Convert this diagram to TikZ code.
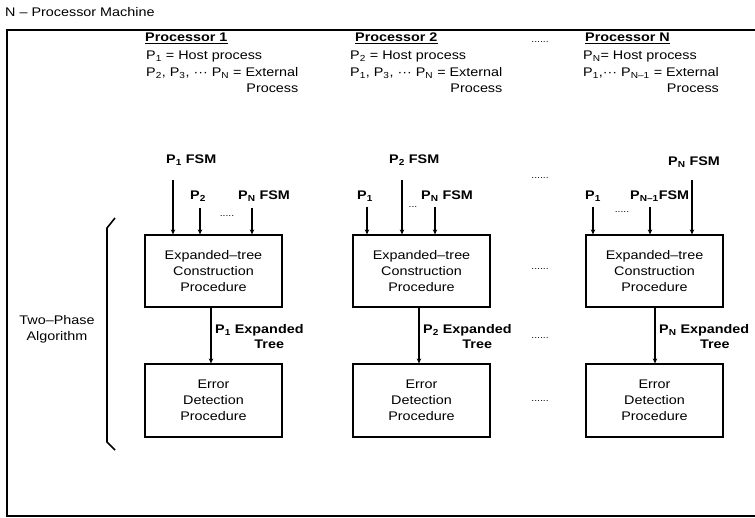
\documentclass[tikz,border=0pt]{standalone}
\usepackage{fontspec}
\setmainfont[FakeStretch=1.15]{Liberation Sans}
\usetikzlibrary{arrows.meta}
\newcommand\Psub[1]{P\textsubscript{#1}}
\begin{document}
\begin{tikzpicture}[x=1pt,y=-1pt,
  every node/.style={font=\fontsize{12.5}{16}\selectfont, inner sep=0pt},
  procbox/.style={draw, line width=1.2pt, minimum width=137pt, minimum height=72pt, align=center},
  feed/.style={line width=1.8pt, -{Stealth[length=5pt,width=4.5pt]}},
  lbl/.style={anchor=base west, font=\bfseries\fontsize{12.5}{16}\selectfont},
  txt/.style={anchor=base west},
  hdots/.style={font=\fontsize{9}{10}\selectfont},
  frameline/.style={line width=1.3pt},
  bracketline/.style={line width=1.6pt}
]
\useasboundingbox (0,0) rectangle (755,518);

% frame and title
\draw[frameline] (755,30) -- (7,30) -- (7,516) -- (755,516);
\node[txt] (title) at (5,17) {N – Processor Machine};

% headings
\node[lbl] (h1) at (145,42) {\underline{Processor 1}};
\node[lbl] (h2) at (355,42) {\underline{Processor 2}};
\node[lbl] (h3) at (585,42) {\underline{Processor N}};
\node[hdots] (d0) at (540,42) {......};

\node[txt] (host1) at (146,60) {\Psub{1} = Host process};
\node[txt] (host2) at (350,60) {\Psub{2} = Host process};
\node[txt] (host3) at (583,60) {\Psub{N}= Host process};

\node[txt] (ext1) at (146,77) {\Psub{2}, \Psub{3}, ··· \Psub{N} = \begin{tabular}[t]{@{}r@{}}External\\Process\end{tabular}};
\node[txt] (ext2) at (350,77) {\Psub{1}, \Psub{3}, ··· \Psub{N} = \begin{tabular}[t]{@{}r@{}}External\\Process\end{tabular}};
\node[txt] (ext3) at (583,77) {\Psub{1},··· \Psub{N–1} = \begin{tabular}[t]{@{}r@{}}External\\Process\end{tabular}};

% boxes
\node[procbox] (ex1) at (213.5,271) {Expanded–tree\\Construction\\Procedure};
\node[procbox] (ex2) at (421.5,271) {Expanded–tree\\Construction\\Procedure};
\node[procbox] (ex3) at (654.5,271) {Expanded–tree\\Construction\\Procedure};
\node[procbox, minimum height=73pt] (er1) at (213.5,400.5) {Error\\Detection\\Procedure};
\node[procbox, minimum height=73pt] (er2) at (421.5,400.5) {Error\\Detection\\Procedure};
\node[procbox, minimum height=73pt] (er3) at (654.5,400.5) {Error\\Detection\\Procedure};

\node[hdots] (d1) at (540,178) {......};
\node[hdots] (d2) at (540,269) {......};
\node[hdots] (d3) at (540,338) {......};
\node[hdots] (d4) at (540,401) {......};

% inputs, processor 1
\node[lbl] (l11) at (166,164) {\Psub{1} FSM};
\node[lbl] (l12) at (190,200) {\Psub{2}};
\node[lbl] (l1n) at (238,200) {\Psub{N} FSM};
\node[hdots] (d11) at (227,216) {.....};
\coordinate (s11) at (173,180);
\coordinate (s12) at (200,208);
\coordinate (s1n) at (252,208);
\draw[feed] (s11) -- (s11 |- ex1.north);
\draw[feed] (s12) -- (s12 |- ex1.north);
\draw[feed] (s1n) -- (s1n |- ex1.north);

% inputs, processor 2
\node[lbl] (l21) at (357,200) {\Psub{1}};
\node[lbl] (l22) at (389,164) {\Psub{2} FSM};
\node[lbl] (l2n) at (421,200) {\Psub{N} FSM};
\node[hdots] (d21) at (413,207) {...};
\coordinate (s21) at (367,207);
\coordinate (s22) at (402,180);
\coordinate (s2n) at (435,207);
\draw[feed] (s21) -- (s21 |- ex2.north);
\draw[feed] (s22) -- (s22 |- ex2.north);
\draw[feed] (s2n) -- (s2n |- ex2.north);

% inputs, processor N
\node[lbl] (l31) at (585,200) {\Psub{1}};
\node[lbl] (l3m) at (630,200) {\Psub{N–1}FSM};
\node[lbl] (l3n) at (668,166) {\Psub{N} FSM};
\node[hdots] (d31) at (622,212) {.....};
\coordinate (s31) at (593,207);
\coordinate (s3m) at (650,207);
\coordinate (s3n) at (692,180);
\draw[feed] (s31) -- (s31 |- ex3.north);
\draw[feed] (s3m) -- (s3m |- ex3.north);
\draw[feed] (s3n) -- (s3n |- ex3.north);

% expanded trees
\draw[feed] ([xshift=-2.5pt]ex1.south) -- ([xshift=-2.5pt]er1.north);
\draw[feed] ([xshift=-2.5pt]ex2.south) -- ([xshift=-2.5pt]er2.north);
\draw[feed] ([xshift=0.5pt]ex3.south) -- ([xshift=0.5pt]er3.north);
\node[lbl] (t1) at (215,334) {\Psub{1} \begin{tabular}[t]{@{}c@{}}Expanded\\[-1pt]Tree\end{tabular}};
\node[lbl] (t2) at (423,334) {\Psub{2} \begin{tabular}[t]{@{}c@{}}Expanded\\[-1pt]Tree\end{tabular}};
\node[lbl] (t3) at (659,334) {\Psub{N} \begin{tabular}[t]{@{}c@{}}Expanded\\[-1pt]Tree\end{tabular}};

% bracket
\draw[bracketline] (115,218) -- (107,228) -- (107,442) -- (115,450);
\node[align=center] (phase) at (57,329) {Two–Phase\\Algorithm};
\end{tikzpicture}
\end{document}
